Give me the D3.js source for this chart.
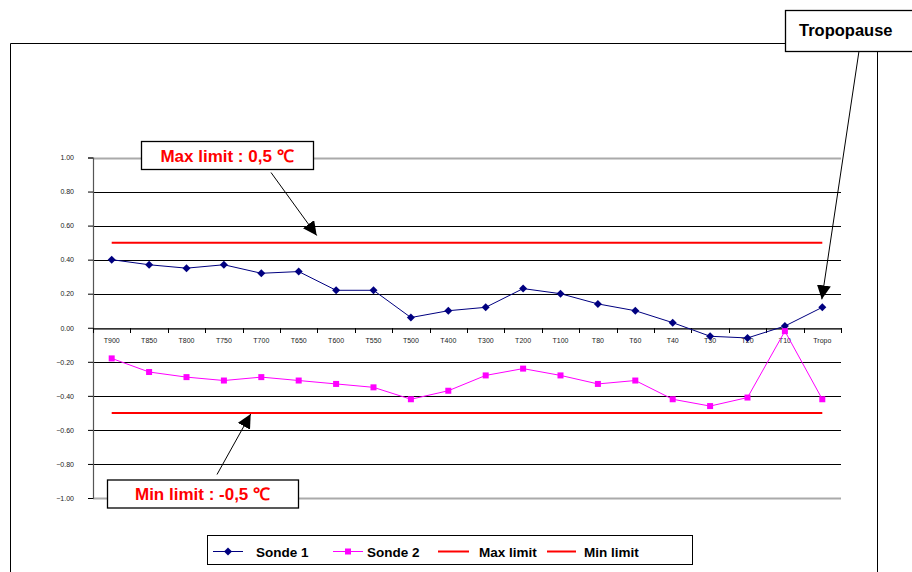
<!DOCTYPE html>
<html>
<head>
<meta charset="utf-8">
<script src="https://cdn.jsdelivr.net/npm/d3@7/dist/d3.min.js"></script>
<style>
html,body{margin:0;padding:0;background:#fff;}
svg{display:block;font-family:"Liberation Sans",Arial,sans-serif;}
</style>
</head>
<body>
<svg id="chart" width="912" height="572"></svg>
<script>
const categories = ["T900","T850","T800","T750","T700","T650","T600","T550","T500","T400","T300","T200","T100","T80","T60","T40","T30","T20","T10","Tropo"];
const sonde1 = [0.40,0.37,0.35,0.37,0.32,0.33,0.22,0.22,0.06,0.10,0.12,0.23,0.20,0.14,0.10,0.03,-0.05,-0.06,0.01,0.12];
const sonde2 = [-0.18,-0.26,-0.29,-0.31,-0.29,-0.31,-0.33,-0.35,-0.42,-0.37,-0.28,-0.24,-0.28,-0.33,-0.31,-0.42,-0.46,-0.41,-0.02,-0.42];
const maxLimit = 0.5;
const minLimit = -0.5;
const yTicks = [1.0,0.8,0.6,0.4,0.2,0.0,-0.2,-0.4,-0.6,-0.8,-1.0];
const legendLabels = ["Sonde 1","Sonde 2","Max limit","Min limit"];
const annotationTexts = ["Max limit : 0,5 \u2103","Min limit : -0,5 \u2103","Tropopause"];

const svg = d3.select("#chart");
const plot = {left:93, right:841, top:157.5, bottom:498};
const x = d3.scaleBand().domain(categories).range([plot.left, plot.right]).padding(0);
const y = d3.scaleLinear().domain([-1,1]).range([plot.bottom, plot.top]);
const cx = c => x(c) + x.bandwidth()/2;

const defs = svg.append("defs");
defs.append("marker").attr("id","arrow").attr("viewBox","0 0 10 10")
  .attr("refX",10).attr("refY",5).attr("markerWidth",14).attr("markerHeight",14)
  .attr("markerUnits","userSpaceOnUse").attr("orient","auto")
  .append("path").attr("d","M0,0 L10,5 L0,10 Z").attr("fill","#000");

// outer frame
svg.append("path").attr("d","M10.5,572 L10.5,43.5 L785,43.5").attr("fill","none").attr("stroke","#000").attr("stroke-width",1);
svg.append("line").attr("x1",877.5).attr("x2",877.5).attr("y1",51).attr("y2",572).attr("stroke","#000").attr("stroke-width",1);

// gridlines
svg.append("g").selectAll("line").data(yTicks).join("line")
  .attr("x1",plot.left).attr("x2",plot.right)
  .attr("y1",d=>Math.round(y(d))+0.5).attr("y2",d=>Math.round(y(d))+0.5)
  .attr("stroke",d=> (d===1||d===-1) ? "#aaa" : "#000")
  .attr("stroke-width",d=> (d===1||d===-1) ? 2 : 1);

// y axis
const yAxis = d3.axisLeft(y).tickValues(yTicks).tickFormat(d3.format(".2f")).tickSize(5).tickPadding(14);
const gy = svg.append("g").attr("transform",`translate(${plot.left},0)`).call(yAxis);
gy.select(".domain").attr("stroke","#555").attr("stroke-width",1.2);
gy.selectAll(".tick line").attr("stroke","#000");
gy.selectAll(".tick text").attr("font-size","7px").attr("fill","#222").attr("font-family","Liberation Sans, Arial, sans-serif");

// x axis at zero
const xAxis = d3.axisBottom(x).tickSize(0).tickPadding(10);
const gx = svg.append("g").attr("transform",`translate(0,${Math.round(y(0))+0.5})`).call(xAxis);
gx.select(".domain").attr("stroke","#444").attr("stroke-width",1.5);
gx.selectAll(".tick text").attr("font-size","7px").attr("fill","#222").attr("font-family","Liberation Sans, Arial, sans-serif");
const bounds = categories.map(c=>x(c)).concat([plot.right]);
svg.append("g").selectAll("line").data(bounds).join("line")
  .attr("x1",d=>Math.round(d)+0.5).attr("x2",d=>Math.round(d)+0.5)
  .attr("y1",Math.round(y(0))).attr("y2",Math.round(y(0))+5)
  .attr("stroke","#000").attr("stroke-width",1);

// limit lines
const limLine = d3.line().x(d=>cx(d.c)).y(d=>y(d.v));
[maxLimit,minLimit].forEach(v=>{
  svg.append("path").datum(categories.map(c=>({c,v})))
    .attr("d",limLine).attr("fill","none").attr("stroke","#ff0000").attr("stroke-width",2);
});

// series
const line = d3.line().x((d,i)=>cx(categories[i])).y(d=>y(d));
svg.append("path").datum(sonde1).attr("d",line).attr("fill","none").attr("stroke","#000080").attr("stroke-width",1);
svg.append("path").datum(sonde2).attr("d",line).attr("fill","none").attr("stroke","#ff00ff").attr("stroke-width",1);
svg.append("g").selectAll("path").data(sonde1).join("path")
  .attr("d",(d,i)=>{const px=cx(categories[i]), py=y(d); return `M${px},${py-4}L${px+4},${py}L${px},${py+4}L${px-4},${py}Z`;})
  .attr("fill","#000080");
svg.append("g").selectAll("rect").data(sonde2).join("rect")
  .attr("x",(d,i)=>cx(categories[i])-3).attr("y",d=>y(d)-3).attr("width",6).attr("height",6)
  .attr("fill","#ff00ff");

// annotations
function box(x0,y0,w,h,txt,color,tx,ty,anchor,size){
  svg.append("rect").attr("x",x0+0.5).attr("y",y0+0.5).attr("width",w).attr("height",h)
    .attr("fill","#fff").attr("stroke","#000").attr("stroke-width",1.3);
  svg.append("text").attr("x",tx).attr("y",ty).attr("text-anchor",anchor)
    .attr("font-weight","bold").attr("font-size",size).attr("fill",color).text(txt);
}
function arrow(x1,y1,x2,y2){
  svg.append("line").attr("x1",x1).attr("y1",y1).attr("x2",x2).attr("y2",y2)
    .attr("stroke","#000").attr("stroke-width",1).attr("marker-end","url(#arrow)");
}
arrow(271,172.5,316.7,235.5);
arrow(217,474.5,250.7,414);
arrow(859,51,cx("Tropo")-0.5,y(sonde1[19])-8);
box(141,141,172,28,annotationTexts[0],"#ff0000",227,162,"middle","17px");
box(107,479.5,191,28,annotationTexts[1],"#ff0000",202.5,500,"middle","17px");
box(785,10,140,41,annotationTexts[2],"#000",799,35.5,"start","16.5px");

// legend
svg.append("rect").attr("x",207.5).attr("y",535.5).attr("width",485).attr("height",29)
  .attr("fill","#fff").attr("stroke","#000").attr("stroke-width",1);
const legendItems = [
  {label:legendLabels[0], color:"#000080", x1:213, x2:243, tx:256, marker:"diamond"},
  {label:legendLabels[1], color:"#ff00ff", x1:333, x2:363, tx:367, marker:"square"},
  {label:legendLabels[2], color:"#ff0000", x1:438, x2:469, tx:479, marker:null, w:2},
  {label:legendLabels[3], color:"#ff0000", x1:547, x2:576, tx:584, marker:null, w:2}
];
const ly = 551.5;
legendItems.forEach(it=>{
  svg.append("line").attr("x1",it.x1).attr("x2",it.x2).attr("y1",ly).attr("y2",ly)
    .attr("stroke",it.color).attr("stroke-width",it.w||1);
  const mx=(it.x1+it.x2)/2;
  if(it.marker==="diamond") svg.append("path").attr("d",`M${mx},${ly-4}L${mx+4},${ly}L${mx},${ly+4}L${mx-4},${ly}Z`).attr("fill",it.color);
  if(it.marker==="square") svg.append("rect").attr("x",mx-3).attr("y",ly-3).attr("width",6).attr("height",6).attr("fill",it.color);
  svg.append("text").attr("x",it.tx).attr("y",ly+5).attr("font-weight","bold").attr("font-size","13.5px").attr("fill","#000").text(it.label);
});
</script>
</body>
</html>
